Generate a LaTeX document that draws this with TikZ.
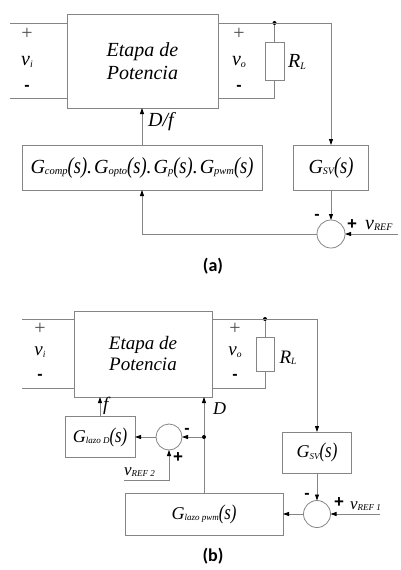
\documentclass[tikz,border=0pt]{standalone}
\usepackage{fontspec}
\usepackage{graphicx}
\setmainfont{Liberation Serif}
\newfontfamily\lsans{Liberation Sans}
\newfontfamily\capf{Carlito}
\usetikzlibrary{arrows.meta}
\definecolor{lc}{HTML}{858585}
\newcommand{\Sb}[4]{{\fontsize{#1}{#1}\selectfont #3}\raisebox{-1.5pt}{\fontsize{#2}{#2}\selectfont #4}}
\newcommand{\Ps}[1]{\scalebox{0.8}[1]{\fontsize{#1}{#1}\selectfont (s)}}
\newcommand{\Dt}{{\fontsize{20}{20}\selectfont .\hspace{2pt}}}
\tikzset{
  ln/.style={draw=lc, line width=0.8pt},
  arr/.style={ln, -{Triangle[length=6pt,width=4pt,color=black]}},
  box/.style={draw=lc, line width=0.9pt, inner sep=0pt, outer sep=0pt, align=center, font=\itshape},
  sumc/.style={circle, draw=lc, line width=0.8pt, minimum size=28pt, inner sep=0pt, outer sep=0pt},
  dot/.style={circle, fill=black, minimum size=4pt, inner sep=0pt},
  lbl/.style={inner sep=0pt, font=\itshape},
  thinplus/.style={inner sep=0pt, text=black!70, font=\fontsize{20}{20}\selectfont},
  hy/.style={inner sep=0pt, font=\lsans\bfseries\fontsize{16}{16}\selectfont},
  bplus/.style={inner sep=0pt, font=\lsans\bfseries\fontsize{17}{17}\selectfont},
  captxt/.style={inner sep=0pt, font=\capf\bfseries\fontsize{18}{18}\selectfont}
}
\begin{document}
\begin{tikzpicture}[x=1pt,y=-1pt]
\useasboundingbox (0,0) rectangle (400,570);
% ---------------- (a)
\node[box, minimum width=151pt, minimum height=94pt, font=\itshape\fontsize{20}{22.6}\selectfont] (E1) at (142.5,61) {Etapa de\\Potencia};
\coordinate (a1) at (10,23);
\coordinate (a2) at (10,98);
\draw[ln] (a1) -- (a1 -| E1.west);
\draw[ln] (a2) -- (a2 -| E1.west);
\node[thinplus] (pa1) at (27,34) {+};
\node[lbl] (vi1) at (27,62) {\Sb{20}{10}{v}{i}};
\node[hy] (ma1) at (27,88) {-};
\node[dot] (d1) at (274.5,23) {};
\coordinate (o1) at (331,23);
\draw[ln] (o1 -| E1.east) -- (o1);
\node[box, minimum width=19pt, minimum height=38pt] (R1) at (274.5,61) {};
\coordinate (b1) at (274.5,98);
\draw[ln] (d1) -- (R1.north);
\draw[ln] (R1.south) -- (b1) -- (b1 -| E1.east);
\node[thinplus] (po1) at (239,34) {+};
\node[lbl] (vo1) at (239,62) {\Sb{20}{10}{v}{o}};
\node[hy] (mo1) at (239,88) {-};
\node[lbl] (RL1) at (297,62) {\Sb{20}{10}{R}{L}};
\node[box, minimum width=75pt, minimum height=45pt] (G1) at (331,167.5) {\Sb{20}{10}{G}{SV}\Ps{23}};
\node[box, minimum width=240pt, minimum height=45pt] (C1) at (142,167.5) {\Sb{20}{10.5}{G}{comp}\Ps{23}\Dt\Sb{20}{10.5}{G}{opto}\Ps{23}\Dt\Sb{20}{10.5}{G}{p}\Ps{23}\Dt\Sb{20}{10.5}{G}{pwm}\Ps{23}};
\draw[arr] (o1) -- (G1.north);
\draw[arr] (C1.north) -- (C1.north |- E1.south);
\node[lbl, anchor=base west, font=\itshape\fontsize{20}{20}\selectfont] (Df) at (148,126) {D/f};
\node[sumc] (S1) at (331,234) {};
\draw[arr] (G1.south) -- (S1.north);
\coordinate (r1) at (398,234);
\draw[arr] (r1) -- (S1.east);
\draw[arr] (S1.west) -- (S1.west -| C1.south) -- (C1.south);
\node[hy] (m1) at (317,217) {-};
\node[bplus] (p1) at (352,225) {+};
\node[lbl, anchor=base west] (vr1) at (365,229) {\Sb{20}{10}{v}{REF}};
\node[captxt] (capa) at (213,266) {(a)};
% ---------------- (b)
\node[box, minimum width=138pt, minimum height=86pt, font=\itshape\fontsize{19}{21}\selectfont] (E2) at (143,354) {Etapa de\\Potencia};
\coordinate (a3) at (22,319);
\coordinate (a4) at (22,388);
\draw[ln] (a3) -- (a3 -| E2.west);
\draw[ln] (a4) -- (a4 -| E2.west);
\node[thinplus] (pa2) at (40,329) {+};
\node[lbl] (vi2) at (40,352) {\Sb{19}{9.5}{v}{i}};
\node[hy] (ma2) at (40,377) {-};
\node[dot] (d2) at (265,319) {};
\coordinate (o2) at (317,319);
\draw[ln] (o2 -| E2.east) -- (o2);
\node[box, minimum width=18pt, minimum height=34pt] (R2) at (265,354) {};
\coordinate (b2) at (265,388);
\draw[ln] (d2) -- (R2.north);
\draw[ln] (R2.south) -- (b2) -- (b2 -| E2.east);
\node[thinplus] (po2) at (235,329) {+};
\node[lbl] (vo2) at (235,352) {\Sb{19}{9.5}{v}{o}};
\node[hy] (mo2) at (235,377) {-};
\node[lbl] (RL2) at (288,358) {\Sb{19}{9.5}{R}{L}};
\node[box, minimum width=70pt, minimum height=41pt] (LD) at (100,437) {\Sb{18}{9}{G}{lazo D}\Ps{21}};
\node[box, minimum width=158pt, minimum height=42pt] (LP) at (204,514) {\Sb{18}{9}{G}{lazo pwm}\Ps{21}};
\node[box, minimum width=69pt, minimum height=41pt] (G2) at (317,452.5) {\Sb{18}{9}{G}{SV}\Ps{21}};
\draw[arr] (LD.north) -- (LD.north |- E2.south);
\node[lbl, anchor=base west, font=\itshape\fontsize{19}{19}\selectfont] (fl) at (103,410) {f};
\draw[arr] (LP.north) -- (LP.north |- E2.south);
\node[lbl, anchor=base west, font=\itshape\fontsize{18}{18}\selectfont] (Dl) at (213,414) {D};
\node[sumc, minimum size=26pt] (S2) at (169,437) {};
\node[dot] (d3) at (LP.north |- S2) {};
\draw[arr] (d3) -- (S2.east);
\draw[arr] (S2.west) -- (S2.west -| LD.east);
\coordinate (r2) at (124,480);
\draw[arr] (r2) -- (r2 -| S2.south) -- (S2.south);
\node[hy] (m2) at (187,431) {-};
\node[bplus] (p2) at (178,458) {+};
\node[lbl, anchor=base west] (vr2) at (124,475) {\Sb{17}{9}{v}{REF 2}};
\node[sumc, minimum size=27pt] (S3) at (317,514) {};
\draw[arr] (o2) -- (G2.north);
\draw[arr] (G2.south) -- (S3.north);
\coordinate (r3) at (380,514);
\draw[arr] (r3) -- (S3.east);
\draw[arr] (S3.west) -- (S3.west -| LP.east);
\node[hy] (m3) at (307,496) {-};
\node[bplus] (p3) at (339,503) {+};
\node[lbl, anchor=base west] (vr3) at (350,509) {\Sb{17}{9}{v}{REF 1}};
\node[captxt] (capb) at (213,556) {(b)};
\end{tikzpicture}
\end{document}
